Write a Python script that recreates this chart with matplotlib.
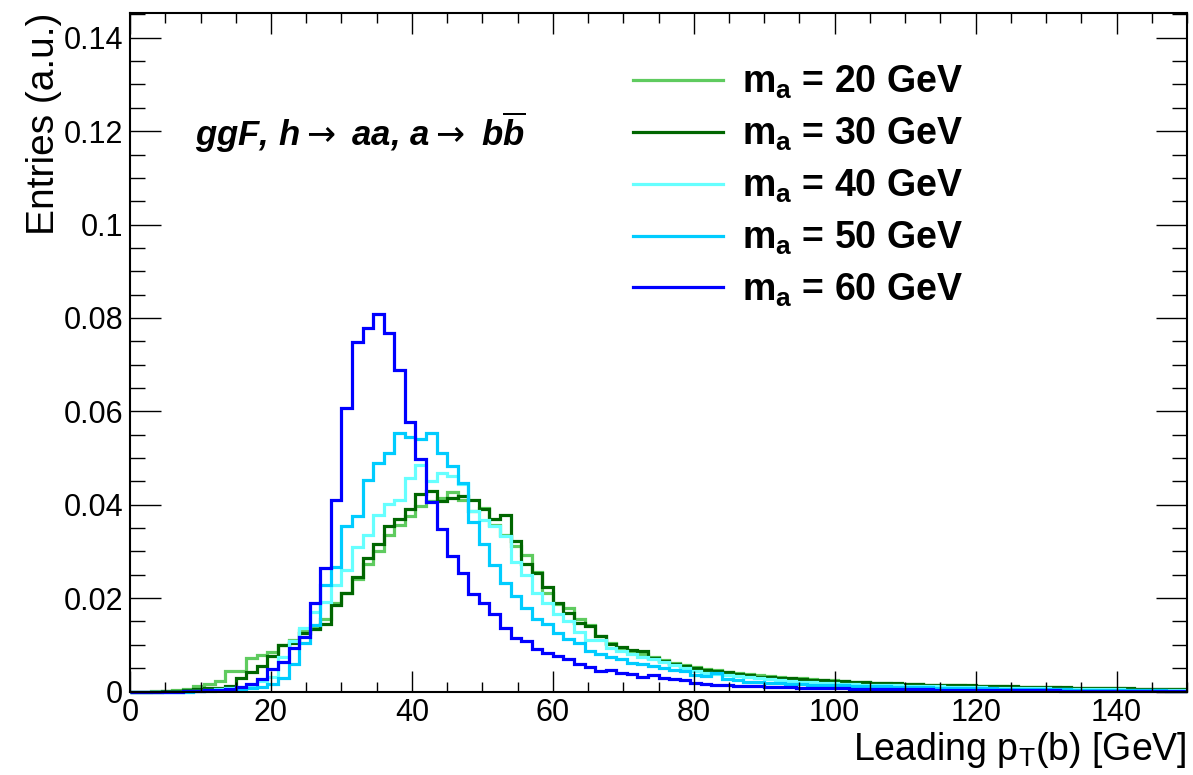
#!/usr/bin/env python3
"""
Leading b-jet pT for ggF, h -> aa, a -> bb, for several pseudoscalar masses.
ROOT-style step histograms, normalised to unit area.
"""

import numpy as np
import matplotlib
matplotlib.use('Agg')
import matplotlib.pyplot as plt
from matplotlib.ticker import MultipleLocator, FuncFormatter

plt.rcParams['font.family'] = ['Liberation Sans', 'DejaVu Sans']

# 100 bins of 1.5 GeV between 0 and 150 GeV
bin_edges = np.linspace(0, 150, 101)

masses = ['20', '30', '40', '50', '60']
colors = ['#5fcb5f', '#006600', '#66ffff', '#00ccff', '#0000ff']

pt_ma20 = [
    0.0000, 0.0000, 0.0001, 0.0002, 0.0003, 0.0006, 0.0011, 0.0017, 0.0023, 0.0043,
    0.0045, 0.0071, 0.0078, 0.0085, 0.0100, 0.0110, 0.0131, 0.0136, 0.0155, 0.0190,
    0.0211, 0.0240, 0.0274, 0.0300, 0.0335, 0.0356, 0.0376, 0.0398, 0.0408, 0.0415,
    0.0428, 0.0410, 0.0387, 0.0394, 0.0356, 0.0336, 0.0311, 0.0292, 0.0256, 0.0210,
    0.0187, 0.0178, 0.0155, 0.0142, 0.0118, 0.0103, 0.0092, 0.0084, 0.0080, 0.0074,
    0.0067, 0.0061, 0.0057, 0.0053, 0.0048, 0.0046, 0.0042, 0.0039, 0.0038, 0.0035,
    0.0033, 0.0031, 0.0029, 0.0028, 0.0026, 0.0025, 0.0024, 0.0022, 0.0021, 0.0020,
    0.0019, 0.0018, 0.0017, 0.0017, 0.0016, 0.0015, 0.0014, 0.0014, 0.0013, 0.0012,
    0.0012, 0.0011, 0.0011, 0.0010, 0.0010, 0.0009, 0.0009, 0.0009, 0.0008, 0.0008,
    0.0008, 0.0007, 0.0007, 0.0007, 0.0006, 0.0006, 0.0006, 0.0005, 0.0005, 0.0005,
]

pt_ma30 = [
    0.0000, 0.0000, 0.0000, 0.0001, 0.0002, 0.0003, 0.0005, 0.0007, 0.0008, 0.0011,
    0.0028, 0.0041, 0.0054, 0.0077, 0.0100, 0.0104, 0.0125, 0.0134, 0.0145, 0.0186,
    0.0211, 0.0246, 0.0287, 0.0316, 0.0354, 0.0369, 0.0390, 0.0422, 0.0430, 0.0407,
    0.0414, 0.0419, 0.0410, 0.0390, 0.0369, 0.0378, 0.0323, 0.0273, 0.0254, 0.0224,
    0.0190, 0.0169, 0.0147, 0.0140, 0.0119, 0.0102, 0.0096, 0.0090, 0.0087, 0.0071,
    0.0066, 0.0059, 0.0054, 0.0050, 0.0046, 0.0045, 0.0041, 0.0038, 0.0036, 0.0032,
    0.0031, 0.0029, 0.0028, 0.0026, 0.0025, 0.0024, 0.0023, 0.0022, 0.0021, 0.0020,
    0.0019, 0.0018, 0.0018, 0.0017, 0.0016, 0.0015, 0.0015, 0.0014, 0.0013, 0.0013,
    0.0012, 0.0012, 0.0011, 0.0011, 0.0010, 0.0010, 0.0009, 0.0009, 0.0009, 0.0008,
    0.0008, 0.0008, 0.0007, 0.0007, 0.0007, 0.0006, 0.0006, 0.0006, 0.0005, 0.0005,
]

pt_ma40 = [
    0.0000, 0.0000, 0.0000, 0.0000, 0.0000, 0.0001, 0.0002, 0.0003, 0.0005, 0.0007,
    0.0010, 0.0014, 0.0022, 0.0032, 0.0075, 0.0108, 0.0135, 0.0171, 0.0192, 0.0228,
    0.0260, 0.0310, 0.0335, 0.0378, 0.0402, 0.0410, 0.0457, 0.0485, 0.0450, 0.0467,
    0.0461, 0.0445, 0.0387, 0.0367, 0.0354, 0.0332, 0.0278, 0.0249, 0.0210, 0.0190,
    0.0166, 0.0150, 0.0127, 0.0110, 0.0111, 0.0094, 0.0086, 0.0080, 0.0074, 0.0069,
    0.0064, 0.0057, 0.0051, 0.0045, 0.0040, 0.0038, 0.0036, 0.0033, 0.0031, 0.0028,
    0.0026, 0.0025, 0.0022, 0.0021, 0.0020, 0.0019, 0.0018, 0.0017, 0.0016, 0.0015,
    0.0014, 0.0014, 0.0013, 0.0012, 0.0012, 0.0011, 0.0011, 0.0010, 0.0010, 0.0009,
    0.0009, 0.0008, 0.0008, 0.0008, 0.0007, 0.0007, 0.0007, 0.0006, 0.0006, 0.0006,
    0.0005, 0.0005, 0.0005, 0.0005, 0.0004, 0.0004, 0.0004, 0.0004, 0.0003, 0.0003,
]

pt_ma50 = [
    0.0000, 0.0000, 0.0000, 0.0000, 0.0000, 0.0000, 0.0001, 0.0002, 0.0003, 0.0004,
    0.0006, 0.0008, 0.0010, 0.0016, 0.0030, 0.0058, 0.0103, 0.0143, 0.0228, 0.0267,
    0.0355, 0.0375, 0.0453, 0.0490, 0.0511, 0.0553, 0.0546, 0.0540, 0.0553, 0.0510,
    0.0483, 0.0446, 0.0363, 0.0315, 0.0271, 0.0232, 0.0205, 0.0179, 0.0155, 0.0144,
    0.0125, 0.0112, 0.0105, 0.0086, 0.0080, 0.0074, 0.0069, 0.0062, 0.0060, 0.0055,
    0.0051, 0.0046, 0.0043, 0.0036, 0.0034, 0.0039, 0.0026, 0.0025, 0.0021, 0.0020,
    0.0019, 0.0018, 0.0017, 0.0016, 0.0015, 0.0014, 0.0014, 0.0013, 0.0012, 0.0012,
    0.0011, 0.0011, 0.0010, 0.0010, 0.0009, 0.0009, 0.0008, 0.0008, 0.0008, 0.0007,
    0.0007, 0.0007, 0.0006, 0.0006, 0.0006, 0.0005, 0.0005, 0.0005, 0.0005, 0.0004,
    0.0004, 0.0004, 0.0004, 0.0003, 0.0003, 0.0003, 0.0003, 0.0003, 0.0002, 0.0002,
]

pt_ma60 = [
    0.0000, 0.0000, 0.0000, 0.0000, 0.0000, 0.0001, 0.0002, 0.0003, 0.0004, 0.0006,
    0.0010, 0.0016, 0.0027, 0.0048, 0.0063, 0.0094, 0.0117, 0.0190, 0.0265, 0.0410,
    0.0608, 0.0748, 0.0778, 0.0808, 0.0768, 0.0688, 0.0578, 0.0497, 0.0405, 0.0349,
    0.0290, 0.0253, 0.0209, 0.0189, 0.0167, 0.0135, 0.0115, 0.0109, 0.0091, 0.0083,
    0.0077, 0.0069, 0.0060, 0.0053, 0.0044, 0.0046, 0.0040, 0.0037, 0.0031, 0.0035,
    0.0029, 0.0027, 0.0024, 0.0018, 0.0017, 0.0015, 0.0013, 0.0012, 0.0011, 0.0011,
    0.0010, 0.0009, 0.0009, 0.0008, 0.0008, 0.0007, 0.0007, 0.0007, 0.0006, 0.0006,
    0.0006, 0.0006, 0.0005, 0.0005, 0.0005, 0.0005, 0.0004, 0.0004, 0.0004, 0.0004,
    0.0004, 0.0003, 0.0003, 0.0003, 0.0003, 0.0003, 0.0003, 0.0003, 0.0002, 0.0002,
    0.0002, 0.0002, 0.0002, 0.0002, 0.0002, 0.0002, 0.0001, 0.0001, 0.0001, 0.0001,
]

series = [pt_ma20, pt_ma30, pt_ma40, pt_ma50, pt_ma60]


def main():
    fig = plt.figure(figsize=(11.93, 7.75), dpi=100)
    ax = fig.add_axes([0.1090, 0.1077, 0.8860, 0.8755])

    for vals, mass, col in zip(series, masses, colors):
        ax.stairs(vals, bin_edges, color=col, linewidth=2.3, baseline=None,
                  clip_on=False, label=rf'$\mathregular{{m_a}}$ = {mass} GeV')

    ax.set_xlim(0, 150)
    ax.set_ylim(0, 0.1453)

    # ROOT-like ticks: inside, on all four sides
    ax.xaxis.set_major_locator(MultipleLocator(20))
    ax.xaxis.set_minor_locator(MultipleLocator(5))
    ax.yaxis.set_major_locator(MultipleLocator(0.02))
    ax.yaxis.set_minor_locator(MultipleLocator(0.005))
    ax.yaxis.set_major_formatter(FuncFormatter(lambda v, pos: f'{v:g}'))
    ax.tick_params(which='both', direction='in', top=True, right=True,
                   width=1.0, labelsize=22)
    ax.tick_params(axis='x', which='major', length=15, pad=5)
    ax.tick_params(axis='x', which='minor', length=7.5)
    ax.tick_params(axis='y', which='major', length=22, pad=5)
    ax.tick_params(axis='y', which='minor', length=11)
    for spine in ax.spines.values():
        spine.set_linewidth(1.5)

    ax.set_xlabel(r'Leading $\mathregular{p_T}$(b) [GeV]', fontsize=27, ha='right')
    ax.xaxis.set_label_coords(1.0, -0.057)
    ax.set_ylabel('Entries (a.u.)', fontsize=28, ha='right')
    ax.yaxis.set_label_coords(-0.064, 1.0)

    ax.text(0.0615, 0.8246,
            r'ggF, h$\rightarrow$ aa, a$\rightarrow$ b$\mathregular{\overline{b}}$',
            transform=ax.transAxes, fontsize=25, fontweight='bold',
            fontstyle='italic', va='center', ha='left')

    ax.legend(loc='upper left', bbox_to_anchor=(0.476, 0.925), frameon=False,
              prop=dict(weight='bold', size=27), handlelength=2.4,
              handletextpad=0.5, labelspacing=0.39, borderpad=0, borderaxespad=0)

    fig.savefig('out.png', dpi=100)


if __name__ == '__main__':
    main()
